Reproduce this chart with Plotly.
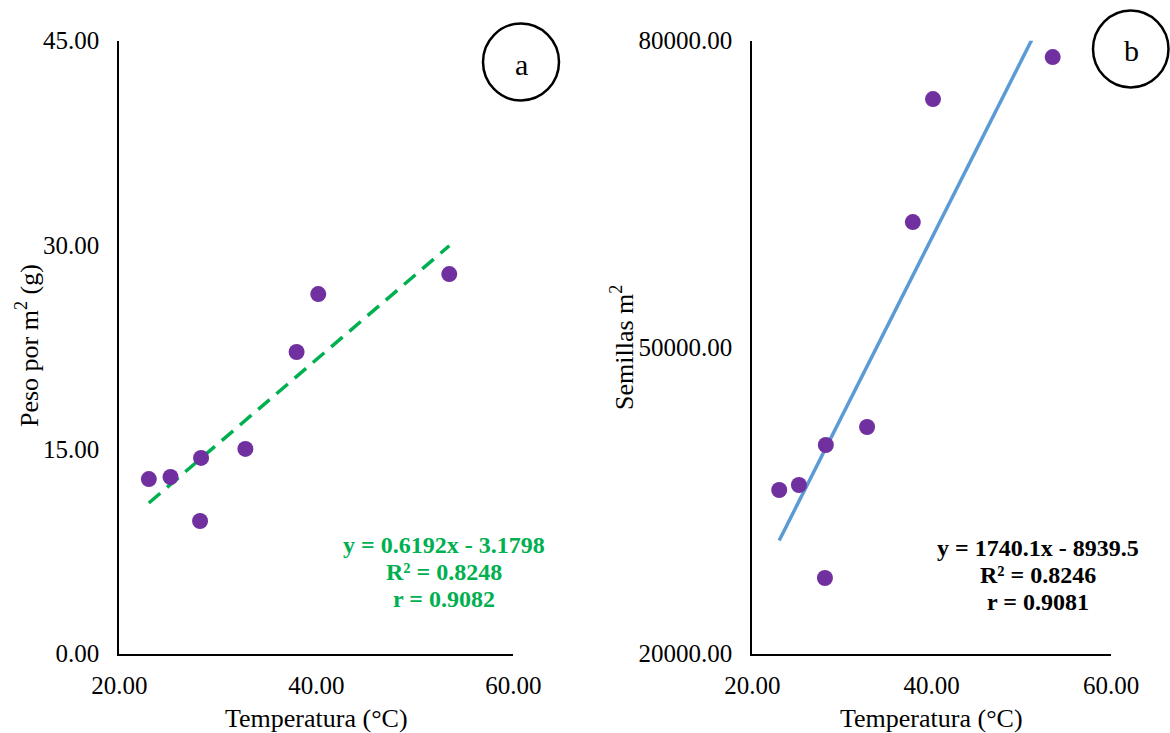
import plotly.graph_objects as go

# Data
temperatura = [23.0, 25.2, 28.3, 28.2, 32.8, 38.0, 40.2, 53.5]
peso_m2 = [12.82, 12.97, 14.37, 9.74, 15.03, 22.15, 26.40, 27.87]
temperatura_b = [23.0, 25.2, 28.2, 28.1, 32.8, 37.9, 40.15, 53.5]
semillas_m2 = [36020, 36510, 40430, 27410, 42190, 62250, 74290, 78400]

# Trendline coefficients (as reported)
slope_a, intercept_a = 0.6192, -3.1798
slope_b, intercept_b = 1740.1, -8939.5

eq_a = ["y = 0.6192x - 3.1798", "R² = 0.8248", "r = 0.9082"]
eq_b = ["y = 1740.1x - 8939.5", "R² = 0.8246", "r = 0.9081"]

x_ticks = [20, 40, 60]
x_tick_text = ["20.00", "40.00", "60.00"]
ya_ticks = [0, 15, 30, 45]
ya_tick_text = ["0.00", "15.00", "30.00", "45.00"]
yb_ticks = [20000, 50000, 80000]
yb_tick_text = ["20000.00", "50000.00", "80000.00"]

W, H = 1170, 733
FONT = "Liberation Serif"
PURPLE = "#7030A0"
GREEN = "#00B050"
BLUE = "#5B9BD5"

def px(x):
    return x / W

def py(y):
    return 1 - y / H

fig = go.Figure()

# Panel a
xa_line = [min(temperatura), max(temperatura)]
fig.add_trace(go.Scatter(
    x=xa_line, y=[slope_a * v + intercept_a for v in xa_line],
    mode="lines", line=dict(color=GREEN, width=3.5, dash="15px,9px"),
    xaxis="x", yaxis="y", showlegend=False, hoverinfo="skip"))
fig.add_trace(go.Scatter(
    x=temperatura, y=peso_m2, mode="markers",
    marker=dict(color=PURPLE, size=16),
    xaxis="x", yaxis="y", showlegend=False))

# Panel b
xb_line = [min(temperatura_b), max(temperatura_b)]
fig.add_trace(go.Scatter(
    x=xb_line, y=[slope_b * v + intercept_b for v in xb_line],
    mode="lines", line=dict(color=BLUE, width=3.5),
    xaxis="x2", yaxis="y2", showlegend=False, hoverinfo="skip"))
fig.add_trace(go.Scatter(
    x=temperatura_b, y=semillas_m2, mode="markers",
    marker=dict(color=PURPLE, size=16),
    xaxis="x2", yaxis="y2", showlegend=False))

tickfont = dict(family=FONT, size=25, color="black")
common_x = dict(range=[20, 60], tickvals=x_ticks, ticktext=x_tick_text,
                showgrid=False, zeroline=False, showline=True, linecolor="black",
                linewidth=2, ticks="", tickfont=tickfont, ticklabelstandoff=8,
                fixedrange=True, automargin=False)
common_y = dict(showgrid=False, zeroline=False, showline=True, linecolor="black",
                linewidth=2, ticks="", tickfont=tickfont, ticklabelstandoff=13,
                fixedrange=True, automargin=False)

ydom = [py(653.7), py(40.7)]
fig.update_layout(
    template="none",
    width=W, height=H,
    margin=dict(l=0, r=0, t=0, b=0, pad=0),
    paper_bgcolor="white", plot_bgcolor="white",
    xaxis=dict(domain=[px(119.3), px(513.3)], anchor="y", **common_x),
    yaxis=dict(domain=ydom, anchor="x", range=[0, 45], tickvals=ya_ticks,
               ticktext=ya_tick_text, **common_y),
    xaxis2=dict(domain=[px(752.3), px(1111)], anchor="y2", **common_x),
    yaxis2=dict(domain=ydom, anchor="x2", range=[20000, 80000], tickvals=yb_ticks,
                ticktext=yb_tick_text, **common_y),
)

annotations = []
titlefont = dict(family=FONT, size=26, color="black")
# Axis titles
annotations.append(dict(text="Temperatura (°C)", x=px(316.3), y=py(718), xref="paper", yref="paper",
                        showarrow=False, font=titlefont, xanchor="center", yanchor="middle"))
annotations.append(dict(text="Temperatura (°C)", x=px(931.6), y=py(718), xref="paper", yref="paper",
                        showarrow=False, font=titlefont, xanchor="center", yanchor="middle"))
annotations.append(dict(text="Peso por m<sup>2</sup> (g)", x=px(27), y=py(346), xref="paper", yref="paper",
                        showarrow=False, font=titlefont, textangle=-90, xanchor="center", yanchor="middle"))
annotations.append(dict(text="Semillas m<sup>2</sup>", x=px(622), y=py(348), xref="paper", yref="paper",
                        showarrow=False, font=titlefont, textangle=-90, xanchor="center", yanchor="middle"))

# Equations
for i, t in enumerate(eq_a):
    annotations.append(dict(text="<b>%s</b>" % t, x=px(444), y=py(545 + 27 * i), xref="paper", yref="paper",
                            showarrow=False, font=dict(family=FONT, size=24, color=GREEN),
                            xanchor="center", yanchor="middle"))
for i, t in enumerate(eq_b):
    annotations.append(dict(text="<b>%s</b>" % t, x=px(1038), y=py(548 + 27 * i), xref="paper", yref="paper",
                            showarrow=False, font=dict(family=FONT, size=24, color="black"),
                            xanchor="center", yanchor="middle"))

# Panel letters
annotations.append(dict(text="a", x=px(521), y=py(64), xref="paper", yref="paper", showarrow=False,
                        font=dict(family=FONT, size=30, color="black"), xanchor="center", yanchor="middle"))
annotations.append(dict(text="b", x=px(1131), y=py(50), xref="paper", yref="paper", showarrow=False,
                        font=dict(family=FONT, size=30, color="black"), xanchor="center", yanchor="middle"))
fig.update_layout(annotations=annotations)

fig.add_shape(type="circle", xref="paper", yref="paper",
              x0=px(483), x1=px(559), y0=py(100.5), y1=py(23.5),
              line=dict(color="black", width=2.5))
fig.add_shape(type="circle", xref="paper", yref="paper",
              x0=px(1093), x1=px(1168.5), y0=py(87.5), y1=py(10.5),
              line=dict(color="black", width=2.5))

fig.write_html("out.html")
